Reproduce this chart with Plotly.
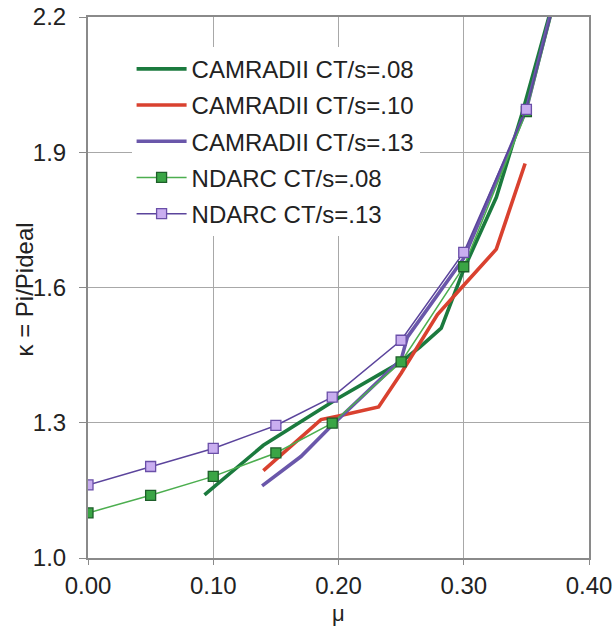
import plotly.graph_objects as go

# CAMRADII curves
cam08_x = [0.093, 0.14, 0.20, 0.25, 0.265, 0.282, 0.30, 0.326, 0.347, 0.375]
cam08_y = [1.14, 1.25, 1.355, 1.435, 1.468, 1.51, 1.64, 1.80, 1.99, 2.27]

cam10_x = [0.14, 0.186, 0.20, 0.232, 0.25, 0.279, 0.30, 0.326, 0.349]
cam10_y = [1.194, 1.307, 1.315, 1.335, 1.41, 1.54, 1.605, 1.685, 1.875]

cam13_x = [0.139, 0.17, 0.195, 0.25, 0.255, 0.30, 0.35, 0.375]
cam13_y = [1.16, 1.225, 1.295, 1.44, 1.49, 1.665, 1.995, 2.27]

# NDARC points
nd08_x = [0.00, 0.05, 0.10, 0.15, 0.195, 0.25, 0.30, 0.35, 0.40]
nd08_y = [1.10, 1.139, 1.181, 1.233, 1.299, 1.435, 1.646, 1.99, 2.52]

nd13_x = [0.00, 0.05, 0.10, 0.15, 0.195, 0.25, 0.30, 0.35, 0.40]
nd13_y = [1.162, 1.203, 1.243, 1.294, 1.357, 1.483, 1.678, 1.995, 2.52]

x_ticks = [0.0, 0.1, 0.2, 0.3, 0.4]
y_ticks = [1.0, 1.3, 1.6, 1.9, 2.2]

FONT = "Liberation Sans, Arial, sans-serif"

fig = go.Figure()
fig.add_trace(go.Scatter(x=cam08_x, y=cam08_y, mode="lines", name="CAMRADII CT/s=.08",
                         line=dict(color="#1b7a3e", width=3.6), legendgroup="a"))
fig.add_trace(go.Scatter(x=cam10_x, y=cam10_y, mode="lines", name="CAMRADII CT/s=.10",
                         line=dict(color="#d9412f", width=3.6), legendgroup="b"))
fig.add_trace(go.Scatter(x=cam13_x, y=cam13_y, mode="lines", name="CAMRADII CT/s=.13",
                         line=dict(color="#6a57aa", width=3.6), legendgroup="c"))
fig.add_trace(go.Scatter(x=nd08_x, y=nd08_y, mode="lines+markers", name="NDARC CT/s=.08",
                         line=dict(color="#4cae4f", width=1.5), legendgroup="d",
                         marker=dict(symbol="square", size=10, color="#3aa545",
                                     line=dict(color="#1e5e2a", width=1.3))))
fig.add_trace(go.Scatter(x=nd13_x, y=nd13_y, mode="lines+markers", name="NDARC CT/s=.13",
                         line=dict(color="#5b449c", width=1.5), legendgroup="e",
                         marker=dict(symbol="square", size=10, color="#c9aef0",
                                     line=dict(color="#6a4fa8", width=1.3))))

axis_common = dict(showgrid=True, gridcolor="#a8a8a8", gridwidth=1,
                   showline=True, linecolor="#8a8a8a", linewidth=2, mirror=True,
                   ticks="outside", tickcolor="#8a8a8a", automargin=False,
                   zeroline=False, tickfont=dict(family=FONT, size=24, color="#222"))

fig.update_xaxes(range=[0, 0.4], tickvals=x_ticks, tickformat=".2f", ticklen=5, **axis_common)
fig.update_yaxes(range=[1.0, 2.2], tickvals=y_ticks, tickformat=".1f", ticklen=7,
                 ticklabelstandoff=8, **axis_common)

fig.add_annotation(text="μ", xref="paper", yref="paper", x=0.5, y=-0.103,
                   showarrow=False, xanchor="center", yanchor="middle",
                   font=dict(family=FONT, size=22, color="#222"))
fig.add_annotation(text="κ = Pi/Pideal", xref="paper", yref="paper", x=-0.127, y=0.497,
                   showarrow=False, textangle=-90, xanchor="center", yanchor="middle",
                   font=dict(family=FONT, size=24, color="#222"))

fig.update_layout(
    width=615, height=631,
    margin=dict(l=88, r=26, t=17, b=73),
    plot_bgcolor="white", paper_bgcolor="white",
    font=dict(family=FONT, color="#222"),
    legend=dict(x=0.087, y=0.945, xanchor="left", yanchor="top",
                bgcolor="white", borderwidth=0,
                font=dict(family=FONT, size=24, color="#222"),
                tracegroupgap=2, itemwidth=50),
)

fig.write_html("out.html")
